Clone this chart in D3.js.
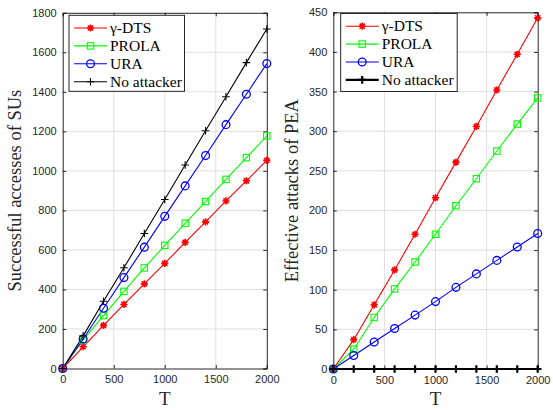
<!DOCTYPE html>
<html>
<head>
<meta charset="utf-8">
<script src="https://cdn.jsdelivr.net/npm/d3@7"></script>
<style>
body{margin:0;background:#fff;}
svg{display:block;}
</style>
</head>
<body>
<svg id="chart" width="553" height="410"></svg>
<script>
// ---------- data ----------
const T = [0, 200, 400, 600, 800, 1000, 1200, 1400, 1600, 1800, 2000];
const seriesNames = ["γ-DTS", "PROLA", "URA", "No attacker"];
const colors = ["#ff0000", "#00ff00", "#0000ff", "#000000"];

// Left: Successful accesses of SUs
const leftDTS = [0, 110, 218, 324, 428, 532, 638, 742, 848, 950, 1053];
const leftPROLA = [0, 145, 268, 390, 509, 623, 735, 845, 957, 1067, 1177];
const leftURA = [0, 149, 305, 460, 614, 770, 924, 1078, 1234, 1388, 1543];
const leftNone = [0, 165, 340, 510, 683, 855, 1030, 1203, 1375, 1548, 1718];

// Right: Effective attacks of PEA
const rightDTS = [0, 37, 81, 125, 170, 216, 261, 306, 352, 397, 443];
const rightPROLA = [0, 25, 65, 101, 135, 170, 206, 240, 275, 309, 342];
const rightURA = [0, 17, 34, 51, 68, 85, 103, 120, 137, 154, 171];
const rightNone = [0, 0, 0, 0, 0, 0, 0, 0, 0, 0, 0];

const xTicks = [0, 500, 1000, 1500, 2000];
const leftYTicks = [0, 200, 400, 600, 800, 1000, 1200, 1400, 1600, 1800];
const rightYTicks = [0, 50, 100, 150, 200, 250, 300, 350, 400, 450];

// ---------- drawing ----------
const svg = d3.select("#chart");
const markerTypes = ["asterisk", "square", "circle", "plus"];

function drawMarker(g, type, x, y, color, sw) {
  if (type === "asterisk") {
    const r = 3.6;
    const p = [];
    for (let k = 0; k < 4; k++) {
      const a = k * Math.PI / 4;
      p.push(`M${x - r * Math.cos(a)},${y - r * Math.sin(a)}L${x + r * Math.cos(a)},${y + r * Math.sin(a)}`);
    }
    g.append("path").attr("d", p.join("")).attr("stroke", color).attr("stroke-width", 1.6).attr("fill", "none");
  } else if (type === "square") {
    const s = 6.4;
    g.append("rect").attr("x", x - s / 2).attr("y", y - s / 2).attr("width", s).attr("height", s)
      .attr("fill", "none").attr("stroke", color).attr("stroke-width", 1.1);
  } else if (type === "circle") {
    g.append("circle").attr("cx", x).attr("cy", y).attr("r", 3.9)
      .attr("fill", "none").attr("stroke", color).attr("stroke-width", 1.3);
  } else if (type === "plus") {
    const r = 3.8;
    g.append("path").attr("d", `M${x - r},${y}L${x + r},${y}M${x},${y - r}L${x},${y + r}`)
      .attr("stroke", color).attr("stroke-width", sw).attr("fill", "none");
  }
}

function drawPanel(cfg) {
  const {left, right, top, bottom, yMax, yTicks, series, ylabel, labelX, blackWidth, legend} = cfg;
  const x = d3.scaleLinear().domain([0, 2000]).range([left, right]);
  const y = d3.scaleLinear().domain([0, yMax]).range([bottom, top]);
  const g = svg.append("g");
  const axisColor = "#262626";

  // grid
  g.append("g").selectAll("line").data(xTicks.slice(1, -1)).join("line")
    .attr("x1", d => x(d)).attr("x2", d => x(d)).attr("y1", top).attr("y2", bottom)
    .attr("stroke", "#dfdfdf").attr("stroke-width", 1);
  g.append("g").selectAll("line").data(yTicks.slice(1, -1)).join("line")
    .attr("y1", d => y(d)).attr("y2", d => y(d)).attr("x1", left).attr("x2", right)
    .attr("stroke", "#dfdfdf").attr("stroke-width", 1);

  // axes via d3 axis (inward ticks)
  const tl = 3.5;
  const xAxis = d3.axisBottom(x).tickValues(xTicks).tickSize(-tl).tickPadding(7).tickFormat(d3.format("d"));
  const xAxisTop = d3.axisTop(x).tickValues(xTicks).tickSize(-tl).tickFormat("");
  const yAxis = d3.axisLeft(y).tickValues(yTicks).tickSize(-tl).tickPadding(6).tickFormat(d3.format("d"));
  const yAxisRight = d3.axisRight(y).tickValues(yTicks).tickSize(-tl).tickFormat("");
  const styleAxis = a => {
    a.select(".domain").attr("stroke", axisColor).attr("stroke-width", 1);
    a.selectAll(".tick line").attr("stroke", axisColor);
    a.selectAll("text").attr("fill", axisColor).attr("font-family", "Liberation Sans, Arial, sans-serif").attr("font-size", 11);
  };
  g.append("g").attr("transform", `translate(0,${bottom})`).call(xAxis).call(styleAxis);
  g.append("g").attr("transform", `translate(0,${top})`).call(xAxisTop).call(styleAxis);
  g.append("g").attr("transform", `translate(${left},0)`).call(yAxis).call(styleAxis);
  g.append("g").attr("transform", `translate(${right},0)`).call(yAxisRight).call(styleAxis);

  // lines
  const line = d3.line().x((d, i) => x(T[i])).y(d => y(d));
  series.forEach((vals, si) => {
    const sw = si === 3 ? blackWidth : 1.1;
    g.append("path").datum(vals).attr("d", line).attr("fill", "none")
      .attr("stroke", colors[si]).attr("stroke-width", sw);
  });
  series.forEach((vals, si) => {
    const sw = si === 3 ? blackWidth : 1.1;
    const mg = g.append("g");
    vals.forEach((v, i) => drawMarker(mg, markerTypes[si], x(T[i]), y(v), colors[si], sw));
  });

  // labels
  g.append("text").attr("x", (left + right) / 2).attr("y", 405)
    .attr("text-anchor", "middle").attr("font-family", "Liberation Serif, Times New Roman, serif")
    .attr("font-size", 19).attr("fill", axisColor).text("T");
  g.append("text").attr("transform", `translate(${labelX},${(top + bottom) / 2}) rotate(-90)`)
    .attr("text-anchor", "middle").attr("font-family", "Liberation Serif, Times New Roman, serif")
    .attr("font-size", 18.5).attr("fill", axisColor).text(ylabel);

  // legend
  const lg = g.append("g").attr("transform", `translate(${legend.x},${legend.y})`);
  lg.append("rect").attr("x", 0).attr("y", 0).attr("width", legend.w).attr("height", legend.h)
    .attr("fill", "#fff").attr("stroke", axisColor).attr("stroke-width", 1);
  seriesNames.forEach((name, si) => {
    const ry = 12.7 + si * 17.9;
    const sw = si === 3 ? blackWidth : 1.1;
    lg.append("line").attr("x1", 5).attr("x2", 38).attr("y1", ry).attr("y2", ry)
      .attr("stroke", colors[si]).attr("stroke-width", sw);
    drawMarker(lg, markerTypes[si], 21.5, ry, colors[si], sw);
    lg.append("text").attr("x", 41).attr("y", ry + 5).attr("font-family", "Liberation Serif, Times New Roman, serif")
      .attr("font-size", 15.5).attr("fill", "#000").text(name);
  });
}

drawPanel({
  left: 62.7, right: 266.8, top: 12.8, bottom: 368.5, yMax: 1800, yTicks: leftYTicks,
  series: [leftDTS, leftPROLA, leftURA, leftNone], ylabel: "Successful accesses of SUs",
  labelX: 21, blackWidth: 1.1, legend: {x: 69, y: 15.3, w: 115.5, h: 76}
});
drawPanel({
  left: 333.3, right: 537.7, top: 12.3, bottom: 369, yMax: 450, yTicks: rightYTicks,
  series: [rightDTS, rightPROLA, rightURA, rightNone], ylabel: "Effective attacks of PEA",
  labelX: 298, blackWidth: 2.2, legend: {x: 340.7, y: 13.5, w: 116.5, h: 78}
});
</script>
</body>
</html>
